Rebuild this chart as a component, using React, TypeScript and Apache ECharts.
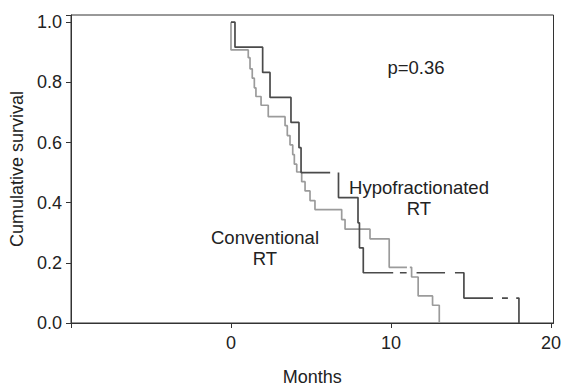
import React, { useEffect, useRef } from "react";
import * as echarts from "echarts";

// Hypofractionated RT (dark curve): event times (months) and survival after each event
const hypoTimes = [0, 0.25, 1.98, 2.44, 3.75, 4.25, 4.38, 6.72, 7.94, 8.03, 8.27, 14.56, 18.0];
const hypoSurv = [1.0, 0.917, 0.833, 0.75, 0.667, 0.583, 0.5, 0.417, 0.333, 0.25, 0.167, 0.083, 0];
// gaps in the drawn line (censor marks)
const hypoGaps = [[6.2, 6.72], [10.14, 10.56], [10.98, 11.6], [13.38, 14.0], [16.38, 16.94], [17.31, 17.83]];

// Conventional RT (light curve)
const convTimes = [0, 0, 1.08, 1.19, 1.33, 1.46, 1.56, 1.88, 2.33, 3.38, 3.52, 3.69, 3.86, 3.96, 4.11, 4.42, 4.63, 4.94, 5.25, 6.92, 7.13, 8.69, 9.89, 11.29, 11.7, 12.6, 13.02];
const convSurv = [1.0, 0.908, 0.882, 0.845, 0.814, 0.782, 0.753, 0.724, 0.686, 0.656, 0.623, 0.592, 0.56, 0.528, 0.502, 0.47, 0.439, 0.407, 0.377, 0.344, 0.312, 0.28, 0.185, 0.153, 0.09, 0.059, 0];
const convGaps = [[11.0, 11.18]];

const xTickLabels = ["", "0", "10", "20"];
const yTickValues = [0, 0.2, 0.4, 0.6, 0.8, 1.0];

const FONT = "'Liberation Sans', Arial, Helvetica, sans-serif";

function stepPoints(times: number[], surv: number[], gaps: number[][]) {
  const pts: number[][] = [[times[0], surv[0]]];
  for (let i = 1; i < times.length; i++) {
    pts.push([times[i], surv[i - 1]], [times[i], surv[i]]);
  }
  const out: any[] = [pts[0]];
  for (let k = 1; k < pts.length; k++) {
    const [x0, y0] = pts[k - 1];
    const [x1, y1] = pts[k];
    if (y0 === y1 && x1 > x0) {
      for (const [g0, g1] of gaps) {
        if (g0 > x0 && g0 < x1) {
          out.push([g0, y0]);
          out.push([(g0 + Math.min(g1, x1)) / 2, null]);
          out.push([Math.min(g1, x1), y0]);
        }
      }
    }
    out.push(pts[k]);
  }
  return out;
}

export default function App() {
  const ref = useRef<HTMLDivElement>(null);
  useEffect(() => {
    if (!ref.current) return;
    const chart = echarts.init(ref.current, undefined, { renderer: "svg" });
    const axisColor = "#333";
    const textColor = "#222";
    chart.setOption({
      animation: false,
      backgroundColor: "#fff",
      grid: {
        left: 71,
        right: 11.5,
        top: 15,
        bottom: 52.5,
        show: true,
        borderColor: axisColor,
        borderWidth: 1,
      },
      xAxis: {
        type: "value",
        min: -10,
        max: 20.16,
        interval: 10,
        name: "Months",
        nameLocation: "middle",
        nameGap: 45,
        nameTextStyle: { fontFamily: FONT, fontSize: 18, color: textColor },
        axisLine: { show: true, onZero: false, lineStyle: { color: axisColor, width: 1 } },
        axisTick: { show: true, length: 5, inside: false, lineStyle: { color: axisColor } },
        axisLabel: {
          fontFamily: FONT,
          fontSize: 18,
          color: textColor,
          margin: 11,
          formatter: (v: number) => {
            const idx = Math.round((v + 10) / 10);
            return xTickLabels[idx] ?? "";
          },
        },
        splitLine: { show: false },
      },
      yAxis: {
        type: "value",
        min: 0,
        max: 1.024,
        interval: 0.2,
        name: "Cumulative survival",
        nameLocation: "middle",
        nameRotate: 90,
        nameGap: 41,
        nameTextStyle: { fontFamily: FONT, fontSize: 18, color: textColor },
        axisLine: { show: true, onZero: false, lineStyle: { color: axisColor, width: 1 } },
        axisTick: { show: true, length: 5, inside: false, lineStyle: { color: axisColor } },
        axisLabel: {
          fontFamily: FONT,
          fontSize: 18,
          color: textColor,
          margin: 9,
          formatter: (v: number) =>
            yTickValues.some((t) => Math.abs(t - v) < 1e-6) ? v.toFixed(1) : "",
        },
        splitLine: { show: false },
      },
      series: [
        {
          name: "Conventional RT",
          type: "line",
          data: stepPoints(convTimes, convSurv, convGaps),
          showSymbol: false,
          symbol: "none",
          connectNulls: false,
          silent: true,
          lineStyle: { color: "#9b9b9b", width: 1.7 },
          z: 2,
        },
        {
          name: "Hypofractionated RT",
          type: "line",
          data: stepPoints(hypoTimes, hypoSurv, hypoGaps),
          showSymbol: false,
          symbol: "none",
          connectNulls: false,
          silent: true,
          lineStyle: { color: "#4a4a4a", width: 1.7 },
          z: 3,
        },
      ],
      graphic: [
        {
          type: "text",
          x: 416,
          y: 67,
          style: {
            text: "p=0.36",
            fontFamily: FONT,
            fontSize: 18.5,
            fill: textColor,
            align: "center",
            verticalAlign: "middle",
          },
        },
        {
          type: "text",
          x: 419,
          y: 198,
          style: {
            text: "Hypofractionated\nRT",
            fontFamily: FONT,
            fontSize: 18.5,
            lineHeight: 20.5,
            fill: textColor,
            align: "center",
            verticalAlign: "middle",
          },
        },
        {
          type: "text",
          x: 265,
          y: 248,
          style: {
            text: "Conventional\nRT",
            fontFamily: FONT,
            fontSize: 18.5,
            lineHeight: 21.5,
            fill: textColor,
            align: "center",
            verticalAlign: "middle",
          },
        },
      ],
    });
    return () => chart.dispose();
  }, []);
  return (
    <div
      ref={ref}
      style={{ position: "fixed", left: 0, top: 0, width: 565, height: 391, background: "#fff" }}
    />
  );
}
